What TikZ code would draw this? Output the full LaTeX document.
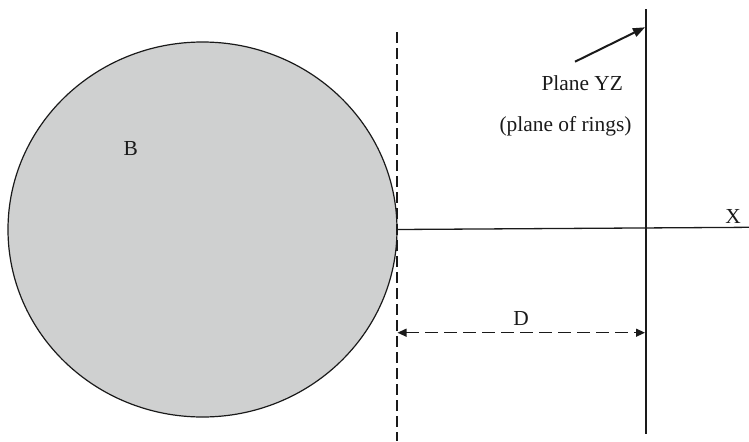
\documentclass[tikz,border=0pt]{standalone}
\usepackage{fontspec}
\setmainfont{Liberation Serif}
\usetikzlibrary{arrows.meta,positioning,shapes.geometric}
\definecolor{BallGray}{RGB}{207,208,208}
\definecolor{InkBlack}{HTML}{1A1A1A}

\begin{document}
\begin{tikzpicture}[x=.5pt,y=.5pt,font=\fontsize{10.7}{13}\selectfont,
    lbl/.style={anchor=base,inner sep=0pt,text=InkBlack},
    dashline/.style={line width=.65pt,InkBlack,dash pattern=on 5.5pt off 2.5pt}]
  \useasboundingbox (0,0) rectangle (749,441);
  \node[ellipse,draw=InkBlack,line width=.6pt,fill=BallGray,inner sep=0pt,
        minimum width=194.5pt,minimum height=187.5pt] (ball) at (202.5,211.5) {};
  \node[lbl] (b) at (130.7,286) {B};
  \coordinate (tantop) at (397,409);
  \coordinate (tanbot) at (397,0);
  \coordinate (planetop) at (646,432);
  \coordinate (planebot) at (646,7);
  \coordinate (xend) at (749,213.7);
  \draw[dashline] (tantop)--(tanbot);
  \draw[line width=1.3pt,InkBlack] (planetop)--(planebot);
  \draw[line width=.65pt,InkBlack] (ball.east)--(xend);
  \node[lbl] (x) at (733,218) {X};
  % distance D
  \coordinate (dleft) at (397.5,108.3);
  \coordinate (dright) at (645,108.3);
  \draw[dashline,dash pattern=on 6.5pt off 3pt,
        {Triangle[length=4.5pt,width=4pt]}-{Triangle[length=4.5pt,width=4pt]}] (dleft)--(dright);
  \node[lbl] (d) at (521,116) {D};
  % plane label
  \node[lbl] (yz) at (582.3,351) {Plane YZ};
  \node[lbl] (rings) at (565.5,309.3) {(plane of rings)};
  \coordinate (ptr) at (575,379.3);
  \coordinate (ptrtip) at (645,413.7);
  \draw[line width=1pt,InkBlack,-{Triangle[length=6pt,width=4.5pt]}] (ptr)--(ptrtip);
\end{tikzpicture}
\end{document}
